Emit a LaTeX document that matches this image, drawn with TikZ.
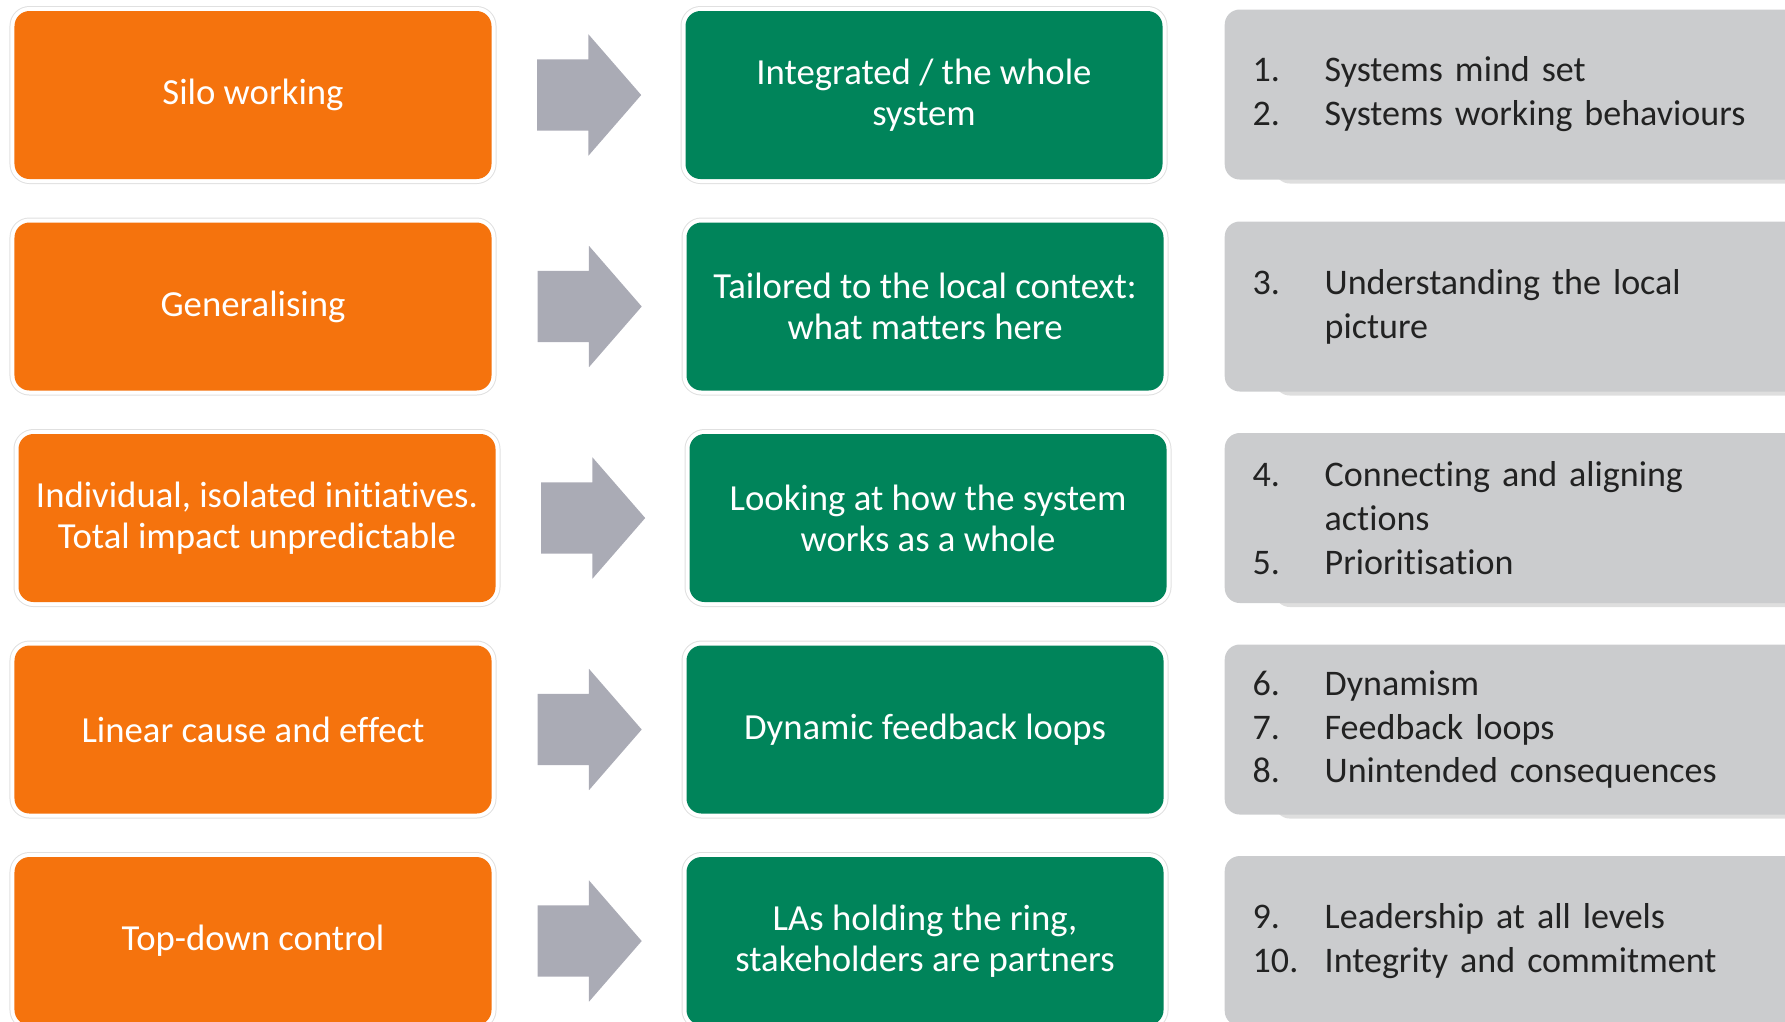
\documentclass[tikz,border=0pt]{standalone}
\usepackage{fontspec}
\setmainfont{Carlito}[Ligatures=NoCommon]
\usetikzlibrary{shapes.arrows,calc}

\definecolor{oldorange}{HTML}{F5730D}
\definecolor{newgreen}{HTML}{00845A}
\definecolor{listgrey}{HTML}{CBCCCE}
\definecolor{arrowgrey}{HTML}{AAABB5}
\definecolor{listtext}{HTML}{222222}

\newcommand{\listline}[2]{\makebox[0.72cm][l]{#1}#2}

\tikzset{
  card/.style={rounded corners=0.15cm, minimum width=4.77cm, minimum height=1.68cm,
    inner sep=0pt, align=center, text=white, font=\fontsize{10.45}{11.7}\selectfont,
    preaction={draw=black!12, line width=0.1cm},
    preaction={draw=white, line width=0.08cm}},
  oldway/.style={card, fill=oldorange},
  newway/.style={card, fill=newgreen},
  changearrow/.style={single arrow, fill=arrowgrey, minimum height=1.04cm,
    minimum width=1.2cm, single arrow head extend=0.25cm, single arrow tip angle=98,
    inner sep=0pt, inner ysep=0.35cm, anchor=tail},
  steplist/.style={rounded corners=0.15cm, fill=listgrey, anchor=west,
    minimum width=6cm, minimum height=1.7cm, inner xsep=0.28cm, inner ysep=0pt,
    text width=5.44cm, align=left, text=listtext, font=\fontsize{10.25}{12.5}\selectfont,
    preaction={fill=black!13, transform canvas={shift={(0.5cm,-0.04cm)}}}}
}

\begin{document}
\begin{tikzpicture}
\useasboundingbox (0,0) rectangle (17.85,-10.21);

% old ways of working
\node[oldway] (o1) at (2.53,-0.95)  {Silo working};
\node[oldway] (o2) at (2.53,-3.065) {Generalising};
\node[oldway] (o3) at (2.57,-5.18)  {Individual, isolated initiatives.\\Total impact unpredictable};
\node[oldway] (o4) at (2.53,-7.295) {Linear cause and effect};
\node[oldway] (o5) at (2.53,-9.41)  {Top-down control};

% new ways of working
\node[newway] (g1) at (9.24,-0.95)  {Integrated / the whole\\system};
\node[newway] (g2) at (9.25,-3.065) {Tailored to the local context:\\what matters here};
\node[newway] (g3) at (9.28,-5.18)  {Looking at how the system\\works as a whole};
\node[newway] (g4) at (9.25,-7.295) {Dynamic feedback loops};
\node[newway] (g5) at (9.25,-9.41)  {LAs holding the ring,\\stakeholders are partners};

% shift arrows
\foreach \i in {1,...,5}
  \node[changearrow] (a\i) at ($(o\i.east)!0.5!(g\i.west)+(-0.52,0)$) {};

% numbered lists
\node[steplist] (l1) at (12.24,-0.945) {\listline{1.}{Systems mind set}\\\listline{2.}{Systems working behaviours}};
\node[steplist] (l2) at (12.24,-3.065) {\listline{3.}{Understanding the local}\\\hspace*{0.72cm}picture};
\node[steplist] (l3) at (12.24,-5.18)  {\listline{4.}{Connecting and aligning}\\\hspace*{0.72cm}actions\\\listline{5.}{Prioritisation}};
\node[steplist] (l4) at (12.24,-7.295) {\listline{6.}{Dynamism}\\\listline{7.}{Feedback loops}\\\listline{8.}{Unintended consequences}};
\node[steplist] (l5) at (12.24,-9.41)  {\listline{9.}{Leadership at all levels}\\\listline{10.}{Integrity and commitment}};

\end{tikzpicture}
\end{document}
